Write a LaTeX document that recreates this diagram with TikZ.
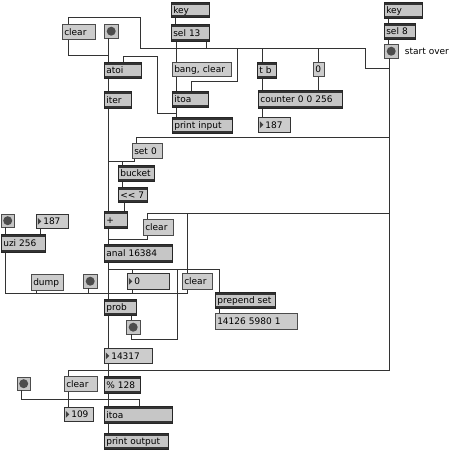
\documentclass[tikz,border=0pt]{standalone}
\usepackage{fontspec}
\setmainfont{DejaVu Sans}
\usetikzlibrary{positioning}

\tikzset{
  box/.style={rectangle, anchor=north west, inner xsep=2pt, inner ysep=0pt, align=left,
    text height=8pt, text depth=1pt, font=\fontsize{9}{10}\selectfont},
  obj/.style={box, draw=black!85, fill=gray!45, line width=.6pt,
    path picture={
      \fill[black!80] (path picture bounding box.north west) rectangle ([yshift=-2.2pt]path picture bounding box.north east);
      \fill[black!80] (path picture bounding box.south west) rectangle ([yshift=2.2pt]path picture bounding box.south east);}},
  msg/.style={box, draw=black!70, fill=gray!40, line width=.5pt},
  numbox/.style={box, draw=black!80, fill=gray!40, line width=.6pt,
    path picture={
      \fill[black!75] ([xshift=1.5pt,yshift=3.5pt]path picture bounding box.west) -- ([xshift=5pt]path picture bounding box.west)
        -- ([xshift=1.5pt,yshift=-3.5pt]path picture bounding box.west) -- cycle;}},
  bang/.style={rectangle, anchor=north west, draw=black!70, fill=gray!45, minimum size=14pt, inner sep=0pt,
    path picture={\fill[black!70] (path picture bounding box.center) circle (4.5pt);}},
  cord/.style={draw=black!80, line width=.8pt},
}

\begin{document}
\begin{tikzpicture}[x=1pt, y=-1pt]
  \useasboundingbox (0,0) rectangle (448,450);

  % top row
  \node[obj, text width=34pt, minimum height=15pt] (keyA) at (171,2) {key};
  \node[obj, text width=34pt, minimum height=17pt] (sel13) at (171,24) {sel 13};
  \node[obj, text width=34pt, minimum height=16pt] (keyB) at (384,2) {key};
  \node[obj, text width=27pt, minimum height=16pt] (sel8) at (384,23) {sel 8};
  \node[bang] (btnStart) at (384,44) {};
  \node[right=3pt of btnStart, font=\fontsize{9}{10}\selectfont] (startLbl) {start over};

  \node[msg, text width=29pt, minimum height=15pt] (clrA) at (62,24) {clear};
  \node[bang] (btnA) at (104,24) {};
  \node[obj, text width=33pt, minimum height=16pt] (atoi) at (104,62) {atoi};
  \node[obj, text width=23pt, minimum height=17pt] (iter) at (104,91) {iter};
  \node[msg, text width=55pt, minimum height=14pt] (bangClr) at (172,62) {bang, clear};
  \node[obj, text width=32pt, minimum height=16pt] (itoaA) at (172,91) {itoa};
  \node[obj, text width=56pt, minimum height=16pt] (printIn) at (172,117) {print input};
  \node[obj, text width=15pt, minimum height=16pt] (tb) at (257,62) {t b};
  \node[msg, text width=7pt, minimum height=14pt] (zeroA) at (313,62) {0};
  \node[obj, text width=80pt, minimum height=18pt] (counter) at (258,90) {counter 0 0 256};
  \node[numbox, text width=28pt, minimum height=15pt] (numA) at (258,117) {\hspace*{5pt}187};

  % middle
  \node[msg, text width=26pt, minimum height=15pt] (set0) at (132,143) {set 0};
  \node[obj, text width=32pt, minimum height=16pt] (bucket) at (118,165) {bucket};
  \node[obj, text width=25pt, minimum height=15pt] (shl) at (118,187) {{<}{<} 7};
  \node[obj, text width=19pt, minimum height=17pt] (plus) at (104,211) {+};
  \node[msg, text width=26pt, minimum height=16pt] (clrB) at (143,219) {clear};
  \node[obj, text width=64pt, minimum height=18pt] (anal) at (104,244) {anal 16384};

  \node[bang, minimum size=13pt] (btnL) at (1,214) {};
  \node[numbox, text width=28pt, minimum height=14pt] (numB) at (36,214) {\hspace*{5pt}187};
  \node[obj, text width=40pt, minimum height=18pt] (uzi) at (1,234) {uzi 256};
  \node[msg, text width=28pt, minimum height=16pt] (dump) at (31,274) {dump};
  \node[bang] (btnM) at (83,274) {};
  \node[numbox, text width=38pt, minimum height=16pt] (numZero) at (127,273) {\hspace*{5pt}0};
  \node[msg, text width=26pt, minimum height=16pt] (clrC) at (182,273) {clear};
  \node[obj, text width=56pt, minimum height=16pt] (prepend) at (215,292) {prepend set};
  \node[msg, text width=78pt, minimum height=16pt] (nums) at (215,313) {14126 5980 1};

  % bottom
  \node[obj, text width=28pt, minimum height=16pt] (prob) at (104,299) {prob};
  \node[bang] (btnP) at (126,320) {};
  \node[numbox, text width=44pt, minimum height=15pt] (numC) at (104,348) {\hspace*{5pt}14317};
  \node[msg, text width=29pt, minimum height=15pt] (clrD) at (64,376) {clear};
  \node[bang, minimum size=13pt] (btnD) at (17,377) {};
  \node[obj, text width=32pt, minimum height=17pt] (mod) at (104,376) {\% 128};
  \node[numbox, text width=25pt, minimum height=14pt] (numD) at (64,407) {\hspace*{5pt}109};
  \node[obj, text width=64pt, minimum height=17pt] (itoaB) at (104,406) {itoa};
  \node[obj, text width=60pt, minimum height=16pt] (printOut) at (104,433) {print output};

  % cords
  \draw[cord] ([xshift=4]keyA.south west) -- ([xshift=4]sel13.north west);
  \draw[cord] ([xshift=4]keyB.south west) -- ([xshift=4]sel8.north west);
  \draw[cord] ([xshift=4]sel8.south west) -- ([xshift=4]btnStart.north west);
  \draw[cord] ([xshift=5]btnStart.south west) -- ++(0,312) -| ([xshift=4]clrD.north west);
  \draw[cord] ([xshift=5]btnStart.south west) ++(0,79) -| ([xshift=4]set0.north west);
  \draw[cord] ([xshift=5]btnStart.south west) ++(0,155) -| ([xshift=4]clrB.north west);
  \draw[cord] ([xshift=5]clrC.north west) -- ++(0,-60);
  \draw[cord] ([xshift=6]clrA.north west) -- ++(0,-7) -| ++(72,31) -- ++(225,0) -- ++(0,20) -- ++(24,0);
  \draw[cord] ([xshift=35]sel13.south west) -- ++(0,7);
  \draw[cord] ([xshift=5]tb.north west) -- ++(0,-14);
  \draw[cord] ([xshift=5]zeroA.north west) -- ++(0,-14);
  \draw[cord] ([xshift=19]itoaA.north west) -- ++(0,-10) -| ++(46,-33);
  \draw[cord] ([xshift=5]sel13.south west) -- ([xshift=4]bangClr.north west);
  \draw[cord] ([xshift=4]bangClr.south west) -- ([xshift=4]itoaA.north west);
  \draw[cord] ([xshift=4]itoaA.south west) -- ([xshift=4]printIn.north west);
  \draw[cord] ([xshift=4]itoaA.south west) -- ++(0,6) -| ++(-19,-57) -| ([xshift=19]atoi.north west);
  \draw[cord] ([xshift=6]clrA.south west) -- ++(0,16) -| ([xshift=4]atoi.north west);
  \draw[cord] ([xshift=4]btnA.south west) -- ([xshift=4]atoi.north west);
  \draw[cord] ([xshift=4]atoi.south west) -- ([xshift=4]iter.north west);
  \draw[cord] ([xshift=4]iter.south west) -- ([xshift=4]plus.north west);
  \draw[cord] ([xshift=4]iter.south west) ++(0,53) -| ([xshift=4]bucket.north west);
  \draw[cord] ([xshift=2]set0.south west) -- ++(0,3) -| ([xshift=4]bucket.north west);
  \draw[cord] ([xshift=5]tb.south west) -- ([xshift=4]counter.north west);
  \draw[cord] ([xshift=5]zeroA.south west) -- ([xshift=60]counter.north west);
  \draw[cord] ([xshift=4]counter.south west) -- ([xshift=4]numA.north west);
  \draw[cord] ([xshift=4]bucket.south west) -- ([xshift=4]shl.north west);
  \draw[cord] ([xshift=6]shl.south west) -- ([xshift=20]plus.north west);
  \draw[cord] ([xshift=4]plus.south west) -- ([xshift=4]anal.north west);
  \draw[cord] ([xshift=4]clrB.south west) -- ++(0,4) -| ([xshift=4]anal.north west);
  \draw[cord] ([xshift=4]anal.south west) -- ([xshift=4]prob.north west);
  \draw[cord] ([xshift=4]anal.south west) ++(0,7) -| ([xshift=4]prepend.north west);
  \draw[cord] ([xshift=5]numZero.north west) -- ++(0,-4);
  \draw[cord] ([xshift=5]btnP.south west) -- ++(0,5) -| ++(46,-70);
  \draw[cord] ([xshift=4]prepend.south west) -- ([xshift=4]nums.north west);
  \draw[cord] ([xshift=4]btnL.south west) -- ([xshift=4]uzi.north west);
  \draw[cord] ([xshift=4]numB.south west) -- ([xshift=39]uzi.north west);
  \draw[cord] ([xshift=4]uzi.south west) -- ++(0,41) -- ++(182,0);
  \draw[cord] ([xshift=5]dump.south west) -- ++(0,3);
  \draw[cord] ([xshift=5]btnM.south west) -- ++(0,5);
  \draw[cord] ([xshift=5]numZero.south west) -- ++(0,4);
  \draw[cord] ([xshift=5]clrC.south west) -- ++(0,4);
  \draw[cord] ([xshift=4]prob.south west) -- ([xshift=4]numC.north west);
  \draw[cord] ([xshift=27]prob.south west) -- ([xshift=5]btnP.north west);
  \draw[cord] ([xshift=4]numC.south west) -- ([xshift=4]mod.north west);
  \draw[cord] ([xshift=4]mod.south west) -- ([xshift=4]itoaB.north west);
  \draw[cord] ([xshift=4]itoaB.south west) -- ([xshift=4]printOut.north west);
  \draw[cord] ([xshift=4]btnD.south west) -- ++(0,9) -| ([xshift=35]itoaB.north west);
  \draw[cord] ([xshift=4]clrD.south west) -- ([xshift=4]numD.north west);
\end{tikzpicture}
\end{document}
